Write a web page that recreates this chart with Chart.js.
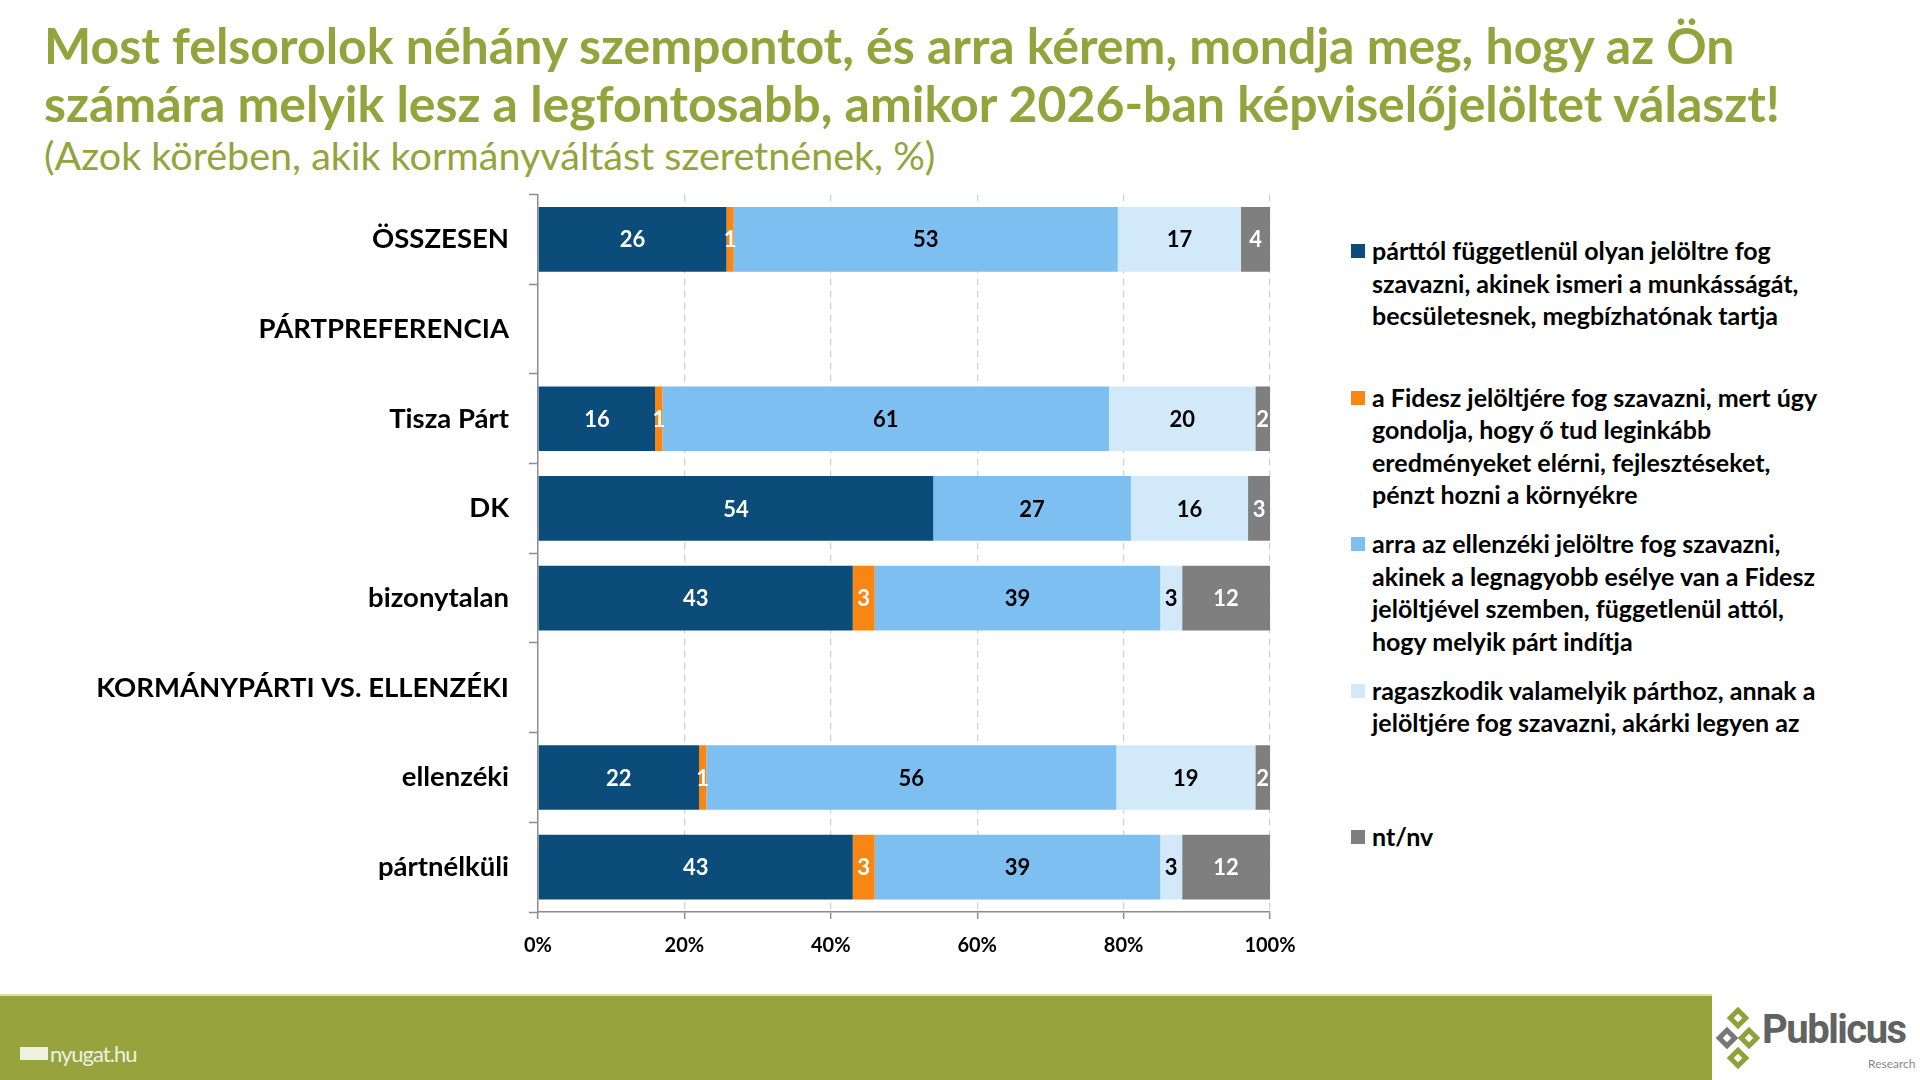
<!DOCTYPE html>
<html><head><meta charset="utf-8">
<script src="https://cdn.jsdelivr.net/npm/chart.js@4.4.1/dist/chart.umd.min.js"></script>
<style>
body{margin:0;width:1920px;height:1080px;background:#fff;position:relative;overflow:hidden;font-family:Lato,"Open Sans",sans-serif;}
#title{position:absolute;left:44px;top:17px;color:#94A43C;font-weight:bold;font-size:50px;line-height:57.5px;white-space:nowrap;}
#subtitle{position:absolute;left:44px;top:131px;color:#94A43C;font-size:39.5px;line-height:1.2;white-space:nowrap;}
#chartWrap{position:absolute;left:0;top:158px;width:1320px;height:822px;}
#legend{position:absolute;left:1351px;top:234px;}
.item{display:flex;height:146.5px;}
.sw{width:14px;height:14px;margin-top:10px;margin-right:7px;flex:none}
.txt{font-weight:bold;font-size:25px;line-height:32.5px;color:#000;white-space:nowrap}
#footer{position:absolute;left:0;top:994px;width:1712px;height:86px;background:#97A43E;border-top:2px solid #d9dfa6;box-sizing:border-box}
#nyugat{position:absolute;left:20px;top:1040px;color:#eef0e0;font-size:22px;letter-spacing:-1px;display:flex;align-items:center}
#nyugat .ic{width:28px;height:13px;background:#eef0e0;margin-right:2px;position:relative}
#logo{position:absolute;left:1716px;top:1004px;width:204px;height:72px}
.dm{position:absolute;width:16px;height:16px;transform:rotate(45deg);border:5px solid #8da33a;box-sizing:border-box}
#pub{position:absolute;left:46px;top:2px;font-family:Roboto,"Open Sans",sans-serif;font-weight:bold;font-size:40px;color:#626262;letter-spacing:-1.5px}
#res{position:absolute;left:152px;top:52px;font-size:12px;color:#888}
</style>
</head><body>
<div id="title">Most felsorolok néhány szempontot, és arra kérem, mondja meg, hogy az Ön<br>számára melyik lesz a legfontosabb, amikor 2026-ban képviselőjelöltet választ!</div>
<div id="subtitle">(Azok körében, akik kormányváltást szeretnének, %)</div>
<div id="chartWrap"><canvas id="c"></canvas></div>
<div id="legend"></div>
<div id="footer"></div>
<div id="nyugat"><span class="ic"></span>nyugat.hu</div>
<div id="logo">
  <div class="dm" style="left:14px;top:6px"></div>
  <div class="dm" style="left:3px;top:26px;border-color:#777"></div>
  <div class="dm" style="left:25px;top:26px;border-color:#8da33a"></div>
  <div class="dm" style="left:14px;top:46px;border-color:#8da33a"></div>
  <div id="pub">Publicus</div>
  <div id="res">Research</div>
</div>
<script>
const categories = ['ÖSSZESEN','PÁRTPREFERENCIA','Tisza Párt','DK','bizonytalan','KORMÁNYPÁRTI VS. ELLENZÉKI','ellenzéki','pártnélküli'];
const seriesNames = [
  ['párttól függetlenül olyan jelöltre fog','szavazni, akinek ismeri a munkásságát,','becsületesnek, megbízhatónak tartja'],
  ['a Fidesz jelöltjére fog szavazni, mert úgy','gondolja, hogy ő tud leginkább','eredményeket elérni, fejlesztéseket,','pénzt hozni a környékre'],
  ['arra az ellenzéki jelöltre fog szavazni,','akinek a legnagyobb esélye van a Fidesz','jelöltjével szemben, függetlenül attól,','hogy melyik párt indítja'],
  ['ragaszkodik valamelyik párthoz, annak a','jelöltjére fog szavazni, akárki legyen az'],
  ['nt/nv']
];
const independentVals = [26, null, 16, 54, 43, null, 22, 43];
const fideszVals      = [1,  null, 1,  null, 3, null, 1,  3];
const oppositionVals  = [53, null, 61, 27, 39, null, 56, 39];
const partyVals       = [17, null, 20, 16, 3,  null, 19, 3];
const dontKnowVals    = [4,  null, 2,  3,  12, null, 2,  12];
const xTickValues = [0, 20, 40, 60, 80, 100];

const seriesValues = [independentVals, fideszVals, oppositionVals, partyVals, dontKnowVals];
const seriesColors = ['#0B4C7A', '#F98512', '#7CBFF0', '#D2E9FA', '#7F7F7F'];
const labelColors  = ['#ffffff', '#ffffff', '#000000', '#000000', '#ffffff'];

// 100% stacked: share of each row total
const totals = categories.map((_, i) => seriesValues.reduce((s, arr) => s + (arr[i] || 0), 0));
const datasets = seriesValues.map((arr, k) => ({
  label: seriesNames[k].join(' '),
  data: arr.map((v, i) => v == null ? null : v / totals[i] * 100),
  raw: arr,
  backgroundColor: seriesColors[k],
  borderWidth: 0,
  barPercentage: 0.72,
  categoryPercentage: 1
}));

const valueLabels = {
  id: 'valueLabels',
  afterDatasetsDraw(chart) {
    const ctx = chart.ctx;
    ctx.save();
    ctx.font = 'bold 22px Lato, "Open Sans", sans-serif';
    ctx.textAlign = 'center';
    ctx.textBaseline = 'middle';
    chart.data.datasets.forEach((ds, k) => {
      const meta = chart.getDatasetMeta(k);
      meta.data.forEach((el, i) => {
        const v = ds.raw[i];
        if (v == null) return;
        ctx.fillStyle = labelColors[k];
        ctx.fillText(String(v), (el.x + el.base) / 2, el.y + 1);
      });
    });
    ctx.restore();
  }
};

const chart = new Chart(document.getElementById('c'), {
  type: 'bar',
  data: { labels: categories, datasets },
  options: {
    indexAxis: 'y',
    responsive: true,
    maintainAspectRatio: false,
    animation: false,
    layout: { padding: { top: 12, right: 50, left: 0, bottom: 0 } },
    plugins: { legend: { display: false }, tooltip: { enabled: false } },
    scales: {
      x: {
        stacked: true, min: 0, max: 100,
        afterBuildTicks: s => { s.ticks = xTickValues.map(v => ({ value: v })); },
        afterFit: s => { s.height = 68; },
        ticks: { callback: v => v + '%', color: '#000', font: { family: 'Lato', weight: 'bold', size: 20 }, padding: 15, maxRotation: 0 },
        grid: { color: c => c.index === 0 ? 'rgba(0,0,0,0)' : '#d4d4d4', lineWidth: 1.3, tickColor: '#8c8c8c', tickLength: 7, tickWidth: 1.5 },
        border: { color: '#8c8c8c', width: 1.5, dash: [7, 5] }
      },
      y: {
        stacked: true, offset: true,
        afterFit: s => { s.width = 538; },
        ticks: { color: '#000', font: { family: 'Lato', weight: 'bold', size: 27.5 }, padding: 20 },
        grid: { offset: true, drawOnChartArea: false, drawTicks: true, tickLength: 9, tickColor: '#8c8c8c', tickWidth: 1.5 },
        border: { color: '#8c8c8c', width: 1.5 }
      }
    }
  },
  plugins: [valueLabels]
});

// HTML legend from the chart's datasets
const legendEl = document.getElementById('legend');
chart.data.datasets.forEach((ds, k) => {
  const item = document.createElement('div');
  item.className = 'item';
  const sw = document.createElement('div');
  sw.className = 'sw';
  sw.style.background = ds.backgroundColor;
  const txt = document.createElement('div');
  txt.className = 'txt';
  seriesNames[k].forEach((line, j) => {
    if (j) txt.appendChild(document.createElement('br'));
    txt.appendChild(document.createTextNode(line));
  });
  item.appendChild(sw); item.appendChild(txt);
  legendEl.appendChild(item);
});
</script>
</body></html>
